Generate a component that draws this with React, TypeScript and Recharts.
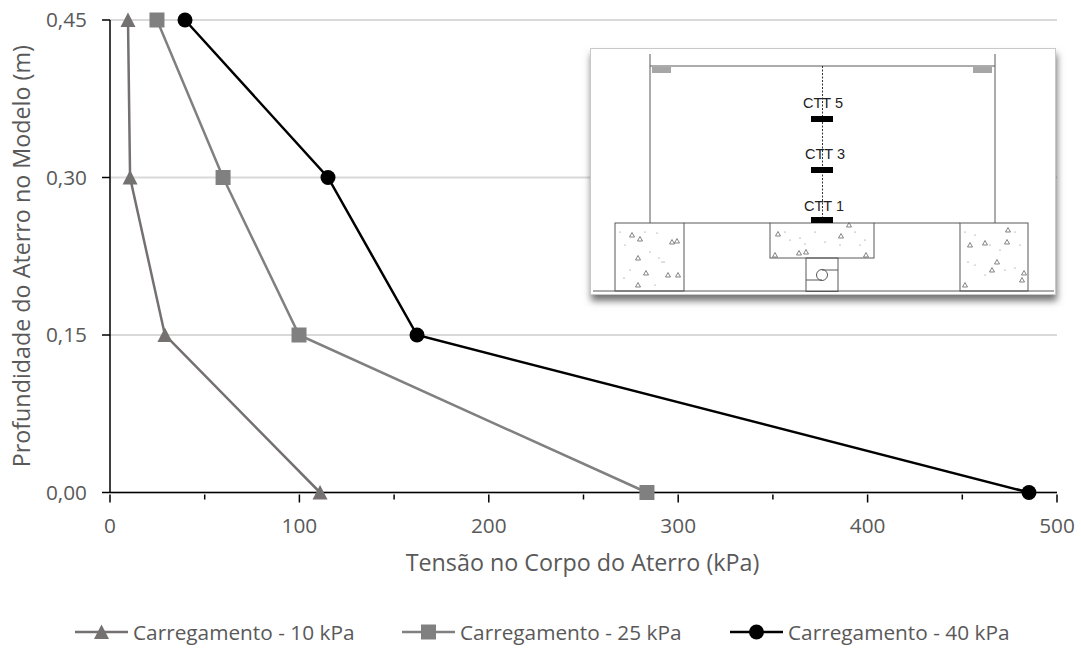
import React from 'react';
import { ScatterChart, Scatter, XAxis, YAxis, CartesianGrid, Legend, Label } from 'recharts';

const depths = [0, 0.15, 0.3, 0.45];
const load10 = [110.9, 29, 10.6, 9.5];
const load25 = [283.5, 99.8, 59.7, 24.8];
const load40 = [485.2, 162.1, 115.1, 39.6];
const xTicks = [0, 50, 100, 150, 200, 250, 300, 350, 400, 450, 500];
const xLabelled = [0, 100, 200, 300, 400, 500];
const yTicks = [0, 0.15, 0.3, 0.45];

const toPoints = (values: number[]) => values.map((x, i) => ({ x, y: depths[i] }));

const GREY_TEXT = '#595959';
const FONT = '"Open Sans", sans-serif';
const TICK_SIZE = 20.8;
const TITLE_SIZE = 23.3;

const Marker = ({ kind, cx, cy, color }: any) => {
  if (kind === 'triangle') {
    return <path d={`M${cx} ${cy - 7.5} L${cx + 7.5} ${cy + 7} L${cx - 7.5} ${cy + 7} Z`} fill={color} />;
  }
  if (kind === 'square') {
    return <rect x={cx - 7.5} y={cy - 7.5} width={15} height={15} fill={color} />;
  }
  return <circle cx={cx} cy={cy} r={7.5} fill={color} />;
};

const series = [
  { name: 'Carregamento - 10 kPa', data: toPoints(load10), color: '#767171', kind: 'triangle' },
  { name: 'Carregamento - 25 kPa', data: toPoints(load25), color: '#808080', kind: 'square' },
  { name: 'Carregamento - 40 kPa', data: toPoints(load40), color: '#000000', kind: 'circle' }
];

const XTick = ({ x, y, payload }: any) => {
  const major = xLabelled.includes(payload.value);
  return (
    <g>
      <line x1={x} x2={x} y1={y} y2={y + (major ? 8 : 5)} stroke="#000" strokeWidth={1.5} />
      {major && (
        <text x={x} y={y + 38.5} textAnchor="middle" fontSize={TICK_SIZE} fontFamily={FONT} fill={GREY_TEXT}>
          {payload.value}
        </text>
      )}
    </g>
  );
};

const LegendRow = () => (
  <div style={{ position: 'relative', width: 1081, height: 24, fontFamily: FONT, fontSize: 20.8, color: GREY_TEXT }}>
    {series.map((s, i) => {
      const left = [75, 402, 730][i];
      return (
        <div key={s.name} style={{ position: 'absolute', left, top: 0, display: 'flex', alignItems: 'center', height: 24, whiteSpace: 'nowrap' }}>
          <svg width={53} height={24} style={{ marginRight: 5 }}>
            <line x1={0} x2={53} y1={12} y2={12} stroke={s.color} strokeWidth={2.5} />
            <Marker kind={s.kind} cx={26.5} cy={12} color={s.color} />
          </svg>
          {s.name}
        </div>
      );
    })}
  </div>
);

// speckles of the concrete blocks in the inset drawing
const blockStones = [
  [632, 235], [640, 239], [672, 242], [677, 241], [638, 258], [646, 273], [668, 275], [638, 285], [678, 275],
  [778, 234], [841, 236], [849, 225], [799, 253], [806, 252], [866, 255], [775, 255],
  [1008, 230], [985, 243], [970, 245], [1007, 242], [997, 262], [992, 270], [1024, 273], [1022, 280], [965, 285]
];
const blockDots = [
  [620, 232], [625, 245], [645, 232], [657, 233], [650, 252], [659, 258], [662, 262], [624, 278], [630, 270], [655, 285], [664, 262],
  [785, 232], [790, 240], [800, 238], [815, 232], [825, 242], [840, 245], [855, 232], [860, 245], [865, 240], [805, 244],
  [965, 232], [975, 235], [990, 245], [1015, 232], [1020, 245], [975, 265], [985, 275], [1005, 270], [1015, 268], [968, 262], [1000, 250]
];

const Inset = () => (
  <div
    style={{
      position: 'absolute',
      left: 590,
      top: 48,
      width: 466,
      height: 247,
      boxSizing: 'border-box',
      border: '1px solid #c9c9c9',
      background: '#fff',
      boxShadow: '1px 6px 7px rgba(0,0,0,0.55)'
    }}
  >
    <svg width={466} height={247} viewBox="590 48 466 247" style={{ position: 'absolute', left: -1, top: -1 }}>
      <g stroke="#595959" strokeWidth={1} fill="none">
        <line x1={650} x2={650} y1={54} y2={223} />
        <line x1={995} x2={995} y1={54} y2={223} />
        <line x1={650} x2={995} y1={66} y2={66} />
        <rect x={615} y={223} width={69} height={68} />
        <rect x={770} y={223} width={104} height={35} />
        <rect x={960} y={223} width={68} height={68} />
        <line x1={684} x2={770} y1={223} y2={223} />
        <line x1={874} x2={960} y1={223} y2={223} />
        <line x1={593} x2={1054} y1={291} y2={291} />
        <rect x={806} y={258} width={32} height={33.5} />
        <circle cx={822} cy={275} r={5.5} />
        <line x1={806} x2={822} y1={280} y2={280} />
        <line x1={822} x2={838} y1={270} y2={270} />
      </g>
      <rect x={652} y={67} width={19} height={6} fill="#a6a6a6" />
      <rect x={973} y={67} width={19} height={6} fill="#a6a6a6" />
      <line x1={822.5} x2={822.5} y1={66} y2={222} stroke="#333" strokeWidth={1} strokeDasharray="2 1.5" />
      {[['CTT 5', 823, 108, 119], ['CTT 3', 825, 159, 170], ['CTT 1', 824, 211, 220]].map(([name, x, ty, by]: any) => (
        <g key={name}>
          <text x={x} y={ty} textAnchor="middle" fontSize={14.5} fontFamily="Liberation Sans, sans-serif" fill="#222">
            {name}
          </text>
          <rect x={811} y={by - 3} width={22} height={6} fill="#000" />
        </g>
      ))}
      {blockStones.map(([x, y]) => (
        <path key={`${x}-${y}`} d={`M${x} ${y - 2.5} L${x + 2.5} ${y + 2} L${x - 2.5} ${y + 2} Z`} fill="none" stroke="#666" strokeWidth={0.8} />
      ))}
      {blockDots.map(([x, y]) => (
        <circle key={`${x}-${y}`} cx={x} cy={y} r={0.6} fill="#777" />
      ))}
    </svg>
  </div>
);

export default function App() {
  return (
    <div style={{ position: 'absolute', left: 0, top: 0, width: 1081, height: 648, background: '#fff', overflow: 'hidden' }}>
      <ScatterChart width={1081} height={648} margin={{ top: 20, right: 24, bottom: 71.5, left: 50 }}>
        <CartesianGrid horizontal vertical={false} stroke="#d9d9d9" strokeWidth={2} />
        <XAxis
          type="number"
          dataKey="x"
          domain={[0, 500]}
          ticks={xTicks}
          interval={0}
          height={60}
          tickSize={0}
          tickLine={false}
          tick={<XTick />}
          axisLine={{ stroke: '#000', strokeWidth: 1.5 }}
        >
          <Label value="Tensão no Corpo do Aterro (kPa)" position="insideBottom" offset={-18} dx={-1} fontSize={TITLE_SIZE} fontFamily={FONT} fill={GREY_TEXT} />
        </XAxis>
        <YAxis
          type="number"
          dataKey="y"
          domain={[0, 0.45]}
          ticks={yTicks}
          interval={0}
          width={60}
          tickSize={8}
          tickMargin={15}
          tickFormatter={(v: number) => v.toFixed(2).replace('.', ',')}
          tick={{ fontSize: TICK_SIZE, fontFamily: FONT, fill: GREY_TEXT }}
          tickLine={{ stroke: '#000', strokeWidth: 1.5 }}
          axisLine={{ stroke: '#000', strokeWidth: 1.5 }}
        >
          <Label value="Profundidade do Aterro no Modelo (m)" angle={-90} position="center" dx={-58} fontSize={TITLE_SIZE} fontFamily={FONT} fill={GREY_TEXT} />
        </YAxis>
        <Legend content={<LegendRow />} wrapperStyle={{ position: 'absolute', left: 0, top: 620, width: 1081, bottom: 'auto' }} />
        {series.map(s => (
          <Scatter
            key={s.name}
            name={s.name}
            data={s.data}
            line={{ stroke: s.color, strokeWidth: 2.5 }}
            fill={s.color}
            isAnimationActive={false}
            shape={(props: any) => <Marker kind={s.kind} cx={props.cx} cy={props.cy} color={s.color} />}
          />
        ))}
      </ScatterChart>
      <Inset />
    </div>
  );
}
